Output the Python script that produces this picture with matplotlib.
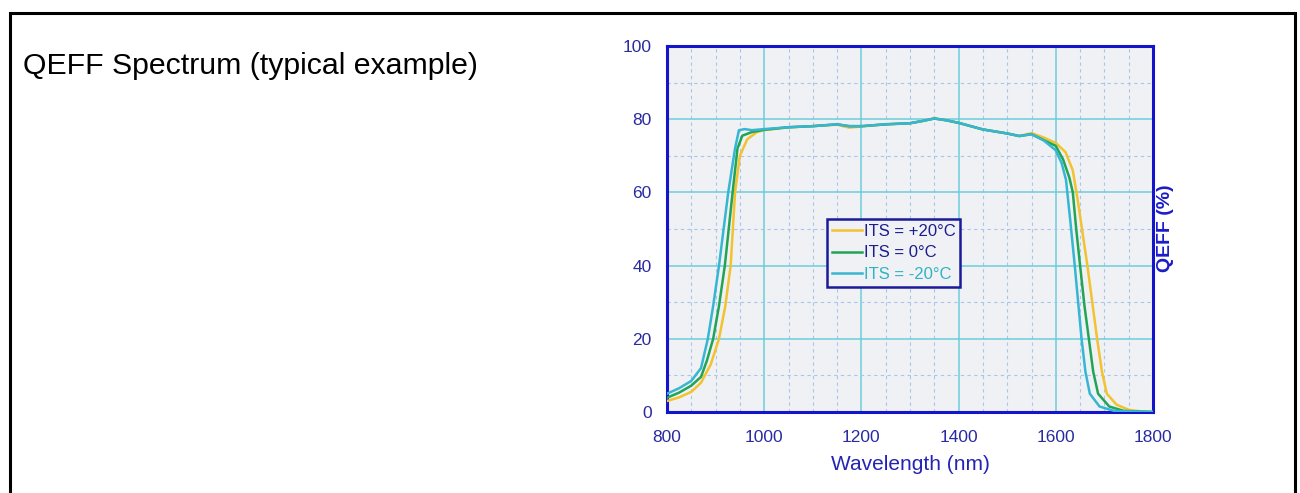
import matplotlib
matplotlib.use('Agg')
import matplotlib.pyplot as plt
from matplotlib.patches import Rectangle
from matplotlib.ticker import MultipleLocator

plt.rcParams['font.family'] = ['Liberation Sans', 'DejaVu Sans']

# QEFF readings (wavelength nm, QEFF %)
wl_p20 = [800, 825, 850, 870, 890, 907, 920, 931, 940, 950, 965, 985, 1000, 1050, 1100,
          1150, 1175, 1200, 1250, 1300, 1325, 1350, 1375, 1400, 1450, 1500, 1525, 1550,
          1575, 1600, 1620, 1635, 1645, 1655, 1665, 1675, 1685, 1695, 1705, 1725, 1750,
          1780, 1800]
qe_p20 = [3.0, 4.0, 5.5, 8.0, 13.0, 20.0, 29.0, 40.0, 60.0, 70.0, 74.5, 76.5, 77.0, 77.8, 78.1,
          78.5, 77.7, 78.0, 78.6, 78.9, 79.5, 80.2, 79.7, 79.0, 77.2, 76.1, 75.4, 76.2,
          75.0, 73.5, 71.0, 66.0, 58.0, 49.0, 40.0, 30.0, 20.0, 11.0, 5.0, 2.0, 0.6,
          0.1, 0.0]

wl_0 = [800, 825, 850, 870, 882, 895, 907, 919, 935, 945, 955, 975, 1000, 1050, 1100,
        1150, 1175, 1200, 1250, 1300, 1325, 1350, 1375, 1400, 1450, 1500, 1525, 1550,
        1575, 1600, 1615, 1628, 1635, 1642, 1650, 1659, 1668, 1677, 1687, 1710, 1740,
        1800]
qe_0 = [3.9, 5.3, 7.2, 9.6, 14.0, 20.0, 29.0, 40.0, 60.0, 72.0, 75.5, 76.5, 77.1, 77.8, 78.1,
        78.6, 78.1, 78.1, 78.6, 78.9, 79.5, 80.2, 79.7, 79.0, 77.2, 76.1, 75.4, 75.9,
        74.3, 72.7, 69.0, 64.0, 60.0, 50.0, 40.0, 29.0, 20.0, 11.0, 5.0, 1.5, 0.3,
        0.0]

wl_m20 = [800, 825, 850, 870, 884, 895, 907, 926, 940, 948, 960, 975, 1000, 1050, 1100,
          1150, 1175, 1200, 1250, 1300, 1325, 1350, 1375, 1400, 1450, 1500, 1525, 1550,
          1575, 1600, 1612, 1621, 1630, 1639, 1646, 1653, 1661, 1670, 1690, 1720, 1800]
qe_m20 = [5.0, 6.5, 8.5, 12.0, 20.0, 29.0, 40.0, 60.0, 72.0, 77.0, 77.3, 77.0, 77.3, 77.8, 78.1,
          78.6, 78.1, 78.1, 78.6, 78.9, 79.5, 80.2, 79.7, 79.0, 77.2, 76.1, 75.4, 75.9,
          74.2, 71.5, 68.0, 63.4, 52.0, 40.0, 30.0, 20.0, 11.0, 5.0, 1.5, 0.3, 0.0]

labels = ['ITS = +20°C', 'ITS = 0°C', 'ITS = -20°C']
line_colors = ['#f2c230', '#22a455', '#36b6d2']
text_colors = ['#1c1c8c', '#1c1c8c', '#2fb4c4']

fig = plt.figure(figsize=(13, 4.93), dpi=100)

# outer frame of the page
fig.patches.append(Rectangle((10 / 1300, -0.05), 1285 / 1300, 1 - 13 / 493 + 0.05,
                             transform=fig.transFigure, fill=False,
                             edgecolor='black', linewidth=2.2))

fig.text(23 / 1300, 1 - 74 / 493, 'QEFF Spectrum (typical example)',
         fontsize=21.8, color='black', va='baseline', ha='left')

ax = fig.add_axes([667 / 1300, 1 - 412 / 493, 486 / 1300, 366 / 493])
ax.set_facecolor('#eff1f4')

series = [(wl_p20, qe_p20), (wl_0, qe_0), (wl_m20, qe_m20)]
for (x, y), lab, col in zip(series, labels, line_colors):
    ax.plot(x, y, color=col, linewidth=1.8, label=lab, zorder=3)

ax.set_xlim(800, 1800)
ax.set_ylim(0, 100)
ax.xaxis.set_major_locator(MultipleLocator(200))
ax.xaxis.set_minor_locator(MultipleLocator(50))
ax.yaxis.set_major_locator(MultipleLocator(20))
ax.yaxis.set_minor_locator(MultipleLocator(10))
ax.grid(True, which='major', color='#6ccddb', linewidth=1.1, zorder=1)
ax.grid(True, which='minor', color='#a8c6ea', linewidth=0.8, linestyle=(0, (3, 3)), zorder=1)
ax.set_axisbelow(True)

ax.tick_params(which='both', length=0, labelsize=12.5, labelcolor='#2a2aa2')
ax.tick_params(axis='x', pad=13)
ax.tick_params(axis='y', pad=11)
for s in ax.spines.values():
    s.set_color('#1414cc')
    s.set_linewidth(2.2)

ax.set_xlabel('Wavelength (nm)', fontsize=15, color='#2424b4', labelpad=7)
fig.text(1166 / 1300, 1 - 228 / 493, 'QEFF (%)', rotation=90, fontsize=14,
         fontweight='bold', color='#1c1cc8', ha='center', va='center')

leg = ax.legend(loc='upper left', bbox_to_anchor=(0.329, 0.527), borderaxespad=0,
                fontsize=12, frameon=True, fancybox=False, handlelength=1.8,
                handletextpad=0.1, labelspacing=0.38, borderpad=0.3)
leg.get_frame().set_edgecolor('#1a1a9a')
leg.get_frame().set_linewidth(1.8)
leg.get_frame().set_facecolor('#eff1f4')
leg.get_frame().set_alpha(1)
for t, c in zip(leg.get_texts(), text_colors):
    t.set_color(c)

fig.savefig('out.png', dpi=100)
